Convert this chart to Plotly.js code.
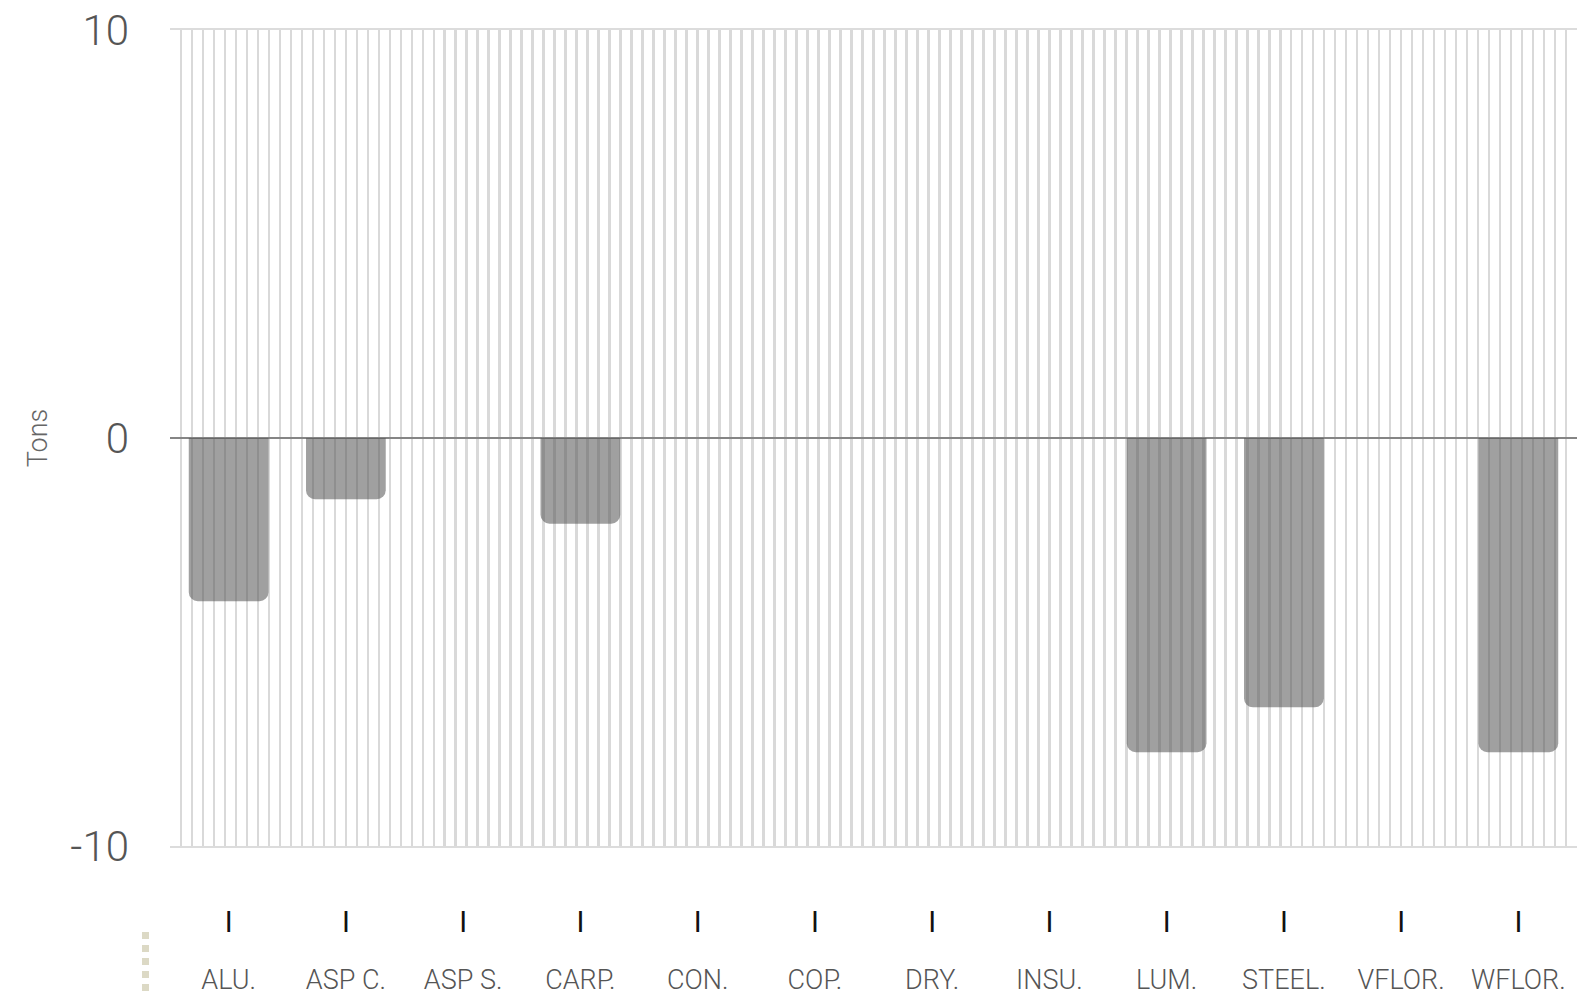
<!DOCTYPE html>
<html>
<head>
<meta charset="utf-8">
<script src="https://cdn.plot.ly/plotly-3.0.1.min.js"></script>
<style>
  html, body { margin: 0; padding: 0; background: #fff; }
  #chart { width: 1587px; height: 998px; }
</style>
</head>
<body>
<div id="chart"></div>
<script>
// Data
const categories = ["ALU.", "ASP C.", "ASP S.", "CARP.", "CON.", "COP.", "DRY.", "INSU.", "LUM.", "STEEL.", "VFLOR.", "WFLOR."];
const tons = [-4.0, -1.5, 0, -2.1, 0, 0, 0, 0, -7.7, -6.6, 0, -7.7];
const yTicks = [-10, 0, 10];
const gridCount = 128;
const tickMark = "I";

const catRange = [-0.5, categories.length - 0.5];

const traces = [
  {
    type: 'bar',
    x: categories,
    y: tons,
    width: 0.68,
    marker: {
      color: 'rgba(79,79,79,0.54)',
      cornerradius: 9,
      line: { width: 0 }
    },
    hoverinfo: 'x+y',
    showlegend: false
  },
  {
    // carries the fine vertical grid axis
    type: 'scatter',
    mode: 'markers',
    x: [0, gridCount],
    y: [0, 0],
    xaxis: 'x2',
    marker: { opacity: 0, size: 1 },
    hoverinfo: 'skip',
    showlegend: false
  },
  {
    // carries the "I" tick-mark axis
    type: 'scatter',
    mode: 'markers',
    x: categories,
    y: categories.map(() => 0),
    xaxis: 'x3',
    marker: { opacity: 0, size: 1 },
    hoverinfo: 'skip',
    showlegend: false
  }
];

const layout = {
  width: 1587,
  height: 998,
  margin: { l: 170, r: 10, t: 30, b: 152 },
  paper_bgcolor: '#ffffff',
  plot_bgcolor: 'rgba(0,0,0,0)',
  font: { family: 'Roboto, "Open Sans", sans-serif', color: '#555' },
  showlegend: false,
  xaxis: {
    type: 'category',
    categoryarray: categories,
    range: catRange,
    showgrid: false,
    zeroline: false,
    ticks: '',
    showline: true,
    mirror: true,
    linecolor: '#dcdcdc',
    linewidth: 2,
    ticklabelstandoff: 109,
    tickfont: { family: 'Roboto, sans-serif', size: 27, color: '#555', weight: 300 },
    fixedrange: true
  },
  xaxis2: {
    overlaying: 'x',
    range: [0, gridCount],
    dtick: 1,
    tick0: 0,
    showgrid: true,
    gridcolor: '#d9d9d9',
    gridwidth: 2.6,
    showticklabels: false,
    ticks: '',
    zeroline: false,
    showline: false,
    fixedrange: true
  },
  xaxis3: {
    overlaying: 'x',
    type: 'category',
    categoryarray: categories,
    range: catRange,
    tickvals: categories,
    ticktext: categories.map(() => tickMark),
    side: 'bottom',
    showgrid: false,
    zeroline: false,
    ticks: '',
    showline: false,
    ticklabelstandoff: 56,
    tickfont: { family: 'Roboto, sans-serif', size: 29, color: '#111', weight: 400 },
    fixedrange: true
  },
  yaxis: {
    range: [-10, 10],
    tickvals: yTicks,
    ticktext: yTicks.map(String),
    showgrid: false,
    zeroline: true,
    zerolinecolor: '#858585',
    zerolinewidth: 2.5,
    showline: false,
    ticks: '',
    ticklabelstandoff: 40,
    tickfont: { family: 'Roboto, sans-serif', size: 42, color: '#555', weight: 300 },
    title: {
      text: 'Tons',
      font: { family: 'Roboto, sans-serif', size: 27, color: '#666', weight: 300 },
      standoff: 14
    },
    fixedrange: true
  },
  shapes: [{
    type: 'line',
    xref: 'paper', yref: 'paper',
    x0: -0.0174, x1: -0.0174,
    y0: -0.1054, y1: -0.1826,
    line: { color: '#dcd9c5', width: 7, dash: '7px,6px' }
  }]
};

Plotly.newPlot('chart', traces, layout, { displayModeBar: false, staticPlot: true });
</script>
</body>
</html>
